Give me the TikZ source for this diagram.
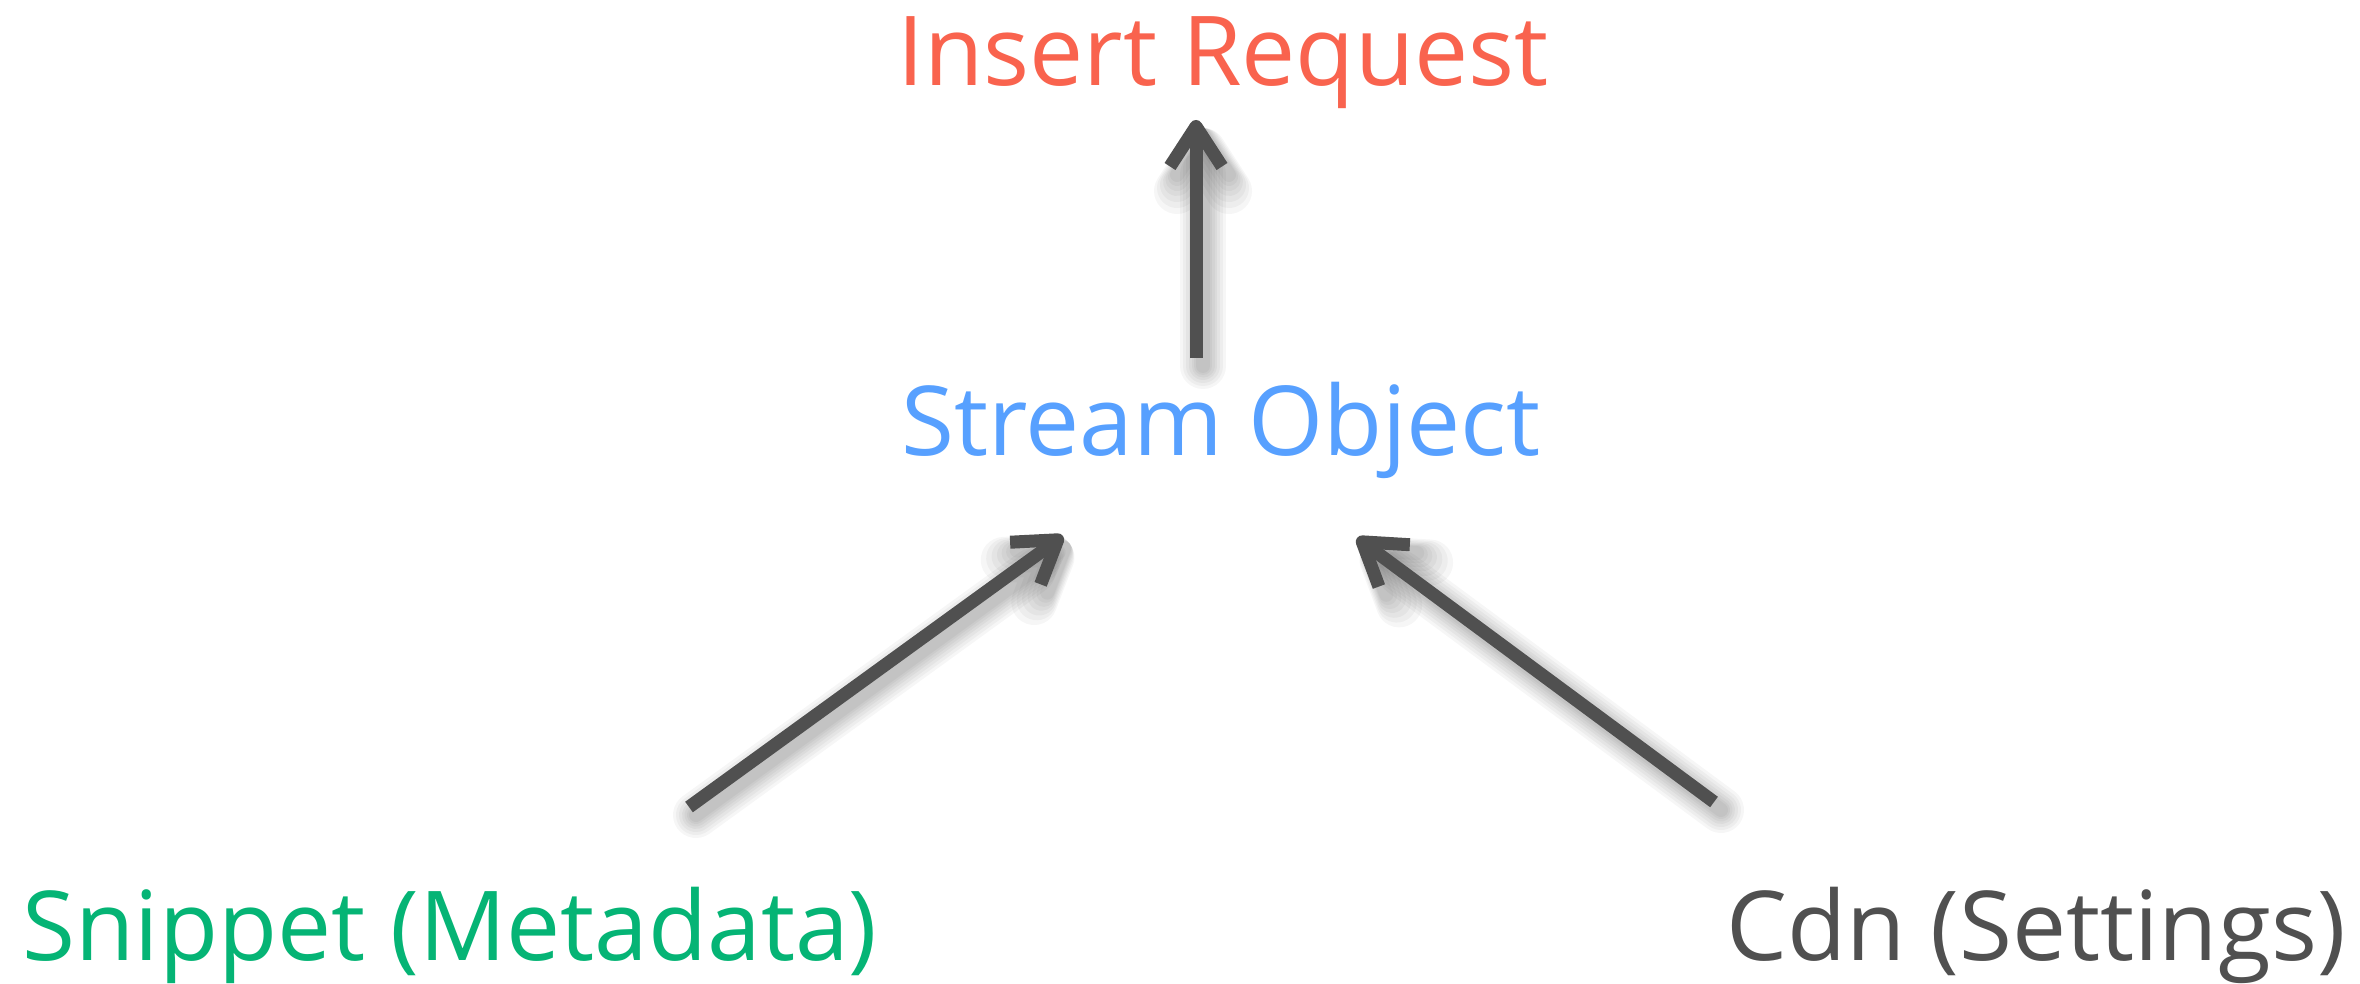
\documentclass[tikz,border=0pt]{standalone}
\usepackage{fontspec}
\setmainfont{Open Sans}
\usetikzlibrary{arrows.meta}
\definecolor{cred}{HTML}{F9634E}
\definecolor{cblue}{HTML}{57A0FF}
\definecolor{cgreen}{HTML}{05B475}
\definecolor{cgray}{HTML}{505050}
\tikzset{
  lbl/.style={anchor=base, inner sep=0pt, font=\fontsize{96.5}{110}\selectfont},
  arr/.style={draw=cgray, line width=13pt,
    -{Straight Barb[length=40pt,width=52pt,line join=round,line cap=butt]}},
  shd/.style={draw=black, line width=#1, opacity=0.035, line cap=round, line join=round,
    -{Straight Barb[length=40pt,width=52pt,line join=round,line cap=round]}},
}
\newcommand\shadowarrow[2]{%
  \foreach \w in {46,40,34,28,23,18,14}{
    \draw[shd=\w pt, transform canvas={shift={(7pt,-8pt)}}] #1 -- #2;
  }
  \draw[arr] #1 -- #2;
}
\begin{document}
\begin{tikzpicture}[x=1pt,y=-1pt]
\useasboundingbox[fill=white] (0,0) rectangle (2360,984);
\node[lbl, text=cred] (insert) at (1223,86) {Insert Request};
\node[lbl, text=cblue] (stream) at (1221,455) {Stream Object};
\node[lbl, text=cgreen] (snippet) at (450,960) {Snippet (Metadata)};
\node[lbl, text=cgray] (cdn) at (2036,960) {Cdn (Settings)};
\shadowarrow{([shift={(-25,-97)}]stream.base)}{([shift={(-27,34)}]insert.base)}
\shadowarrow{([shift={(239,-153)}]snippet.base)}{([shift={(-158,81)}]stream.base)}
\shadowarrow{([shift={(-322,-158)}]cdn.base)}{([shift={(136,83)}]stream.base)}
\end{tikzpicture}
\end{document}
